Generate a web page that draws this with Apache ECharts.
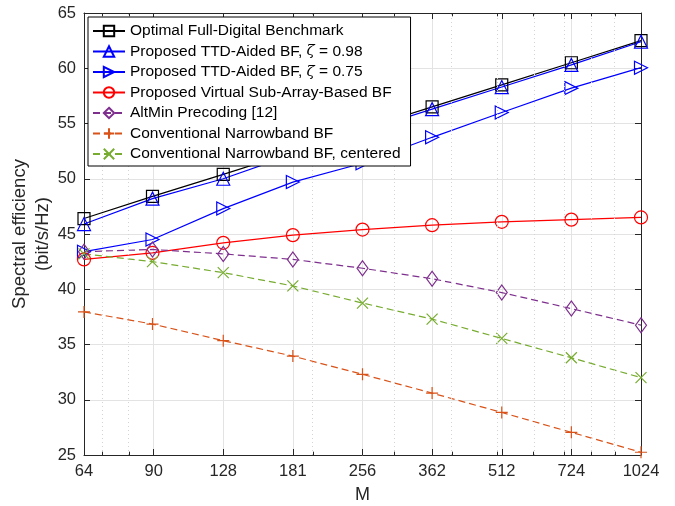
<!DOCTYPE html>
<html>
<head>
<meta charset="utf-8">
<script src="https://cdn.jsdelivr.net/npm/echarts@6/dist/echarts.min.js"></script>
<style>
  html, body { margin: 0; padding: 0; background: #fff; }
  #chart { width: 675px; height: 506px; }
</style>
</head>
<body>
<div id="chart"></div>
<script>
// antenna counts on the x axis (log-spaced)
const M = [64, 90, 128, 181, 256, 362, 512, 724, 1024]
const xTickLabels = ['64', '90', '128', '181', '256', '362', '512', '724', '1024']
const minorM = [70, 80, 200, 300, 400, 500, 600, 700, 800, 900]

const optimal = [46.4, 48.4, 50.4, 52.4, 54.5, 56.5, 58.5, 60.5, 62.5]
const ttd098 = [45.9, 48.2, 50.0, 52.2, 54.3, 56.3, 58.3, 60.3, 62.4]
const ttd075 = [43.4, 44.5, 47.3, 49.7, 51.4, 53.75, 56.0, 58.2, 60.05]
const virtualSub = [42.7, 43.3, 44.2, 44.9, 45.4, 45.8, 46.1, 46.3, 46.5]
const altMin = [43.4, 43.6, 43.2, 42.7, 41.9, 40.95, 39.7, 38.25, 36.75]
const narrowband = [37.95, 36.85, 35.35, 33.95, 32.3, 30.6, 28.85, 27.05, 25.25]
const narrowbandCentered = [43.2, 42.5, 41.5, 40.3, 38.75, 37.3, 35.55, 33.8, 32.0]

const font = 'Liberation Sans, Arial, Helvetica, sans-serif'
const axisColor = '#262626'
const yMin = 25
const yMax = 65

const toXY = vals => M.map((m, i) => [Math.log2(m), vals[i]])

function mkSeries (name, vals, color, symbol, size, dashed) {
  return {
    name: name,
    type: 'line',
    data: toXY(vals),
    symbol: symbol,
    symbolSize: size,
    showSymbol: true,
    z: 3,
    lineStyle: { color: color, width: 1.2, type: dashed ? [7, 4] : 'solid' },
    itemStyle: { color: 'rgba(0,0,0,0)', borderColor: color, borderWidth: 1.2 },
    emphasis: { disabled: true }
  }
}

// short minor ticks on the bottom and top edges (log positions)
const minorTicks = []
minorM.forEach(m => {
  const x = Math.log2(m)
  minorTicks.push([{ coord: [x, yMin] }, { coord: [x, yMin + 0.3] }])
  minorTicks.push([{ coord: [x, yMax] }, { coord: [x, yMax - 0.3] }])
})

const option = {
  animation: false,
  backgroundColor: '#fff',
  textStyle: { fontFamily: font },
  grid: { left: 84, right: 34, top: 13, bottom: 51, containLabel: false, outerBoundsMode: 'none' },
  legend: {
    orient: 'vertical',
    left: 88,
    top: 17,
    itemWidth: 32,
    itemHeight: 13,
    itemGap: 4.5,
    padding: [6, 10, 4, 4],
    backgroundColor: '#fff',
    borderColor: '#000',
    borderWidth: 1,
    borderRadius: 0,
    z: 10,
    textStyle: {
      fontFamily: font,
      fontSize: 15.5,
      lineHeight: 16,
      color: '#000',
      rich: { i: { fontFamily: 'DejaVu Serif, serif', fontStyle: 'italic', fontSize: 15, lineHeight: 16, color: '#000' } }
    },
    formatter: function (name) {
      return name.replace('ζ', '{i|ζ}')
    }
  },
  xAxis: [
    {
      type: 'value',
      min: 6,
      max: 10,
      interval: 0.5,
      name: 'M',
      nameLocation: 'middle',
      nameGap: 31,
      nameMoveOverlap: false,
      nameTextStyle: { fontSize: 18, color: axisColor, fontFamily: font },
      axisLine: { show: true, onZero: false, lineStyle: { color: axisColor, width: 1 } },
      axisTick: { show: true, inside: true, length: 6, lineStyle: { color: axisColor } },
      axisLabel: {
        fontSize: 16.5,
        color: axisColor,
        margin: 8,
        formatter: v => xTickLabels[Math.round((v - 6) * 2)]
      },
      splitLine: { show: true, lineStyle: { color: '#e3e3e3', width: 1 } }
    },
    {
      type: 'value',
      position: 'top',
      min: 6,
      max: 10,
      interval: 0.5,
      axisLine: { show: true, onZero: false, lineStyle: { color: axisColor, width: 1 } },
      axisTick: { show: true, inside: true, length: 6, lineStyle: { color: axisColor } },
      axisLabel: { show: false },
      splitLine: { show: false }
    }
  ],
  yAxis: [
    {
      type: 'value',
      min: yMin,
      max: yMax,
      interval: 5,
      name: 'Spectral efficiency\n(bit/s/Hz)',
      nameLocation: 'middle',
      nameGap: 30,
      nameMoveOverlap: false,
      nameTextStyle: { fontSize: 18.5, color: axisColor, fontFamily: font, lineHeight: 23 },
      axisLine: { show: true, onZero: false, lineStyle: { color: axisColor, width: 1 } },
      axisTick: { show: true, inside: true, length: 6, lineStyle: { color: axisColor } },
      axisLabel: { fontSize: 16.5, color: axisColor, margin: 8 },
      splitLine: { show: true, lineStyle: { color: '#e3e3e3', width: 1 } }
    },
    {
      type: 'value',
      position: 'right',
      min: yMin,
      max: yMax,
      interval: 5,
      axisLine: { show: true, onZero: false, lineStyle: { color: axisColor, width: 1 } },
      axisTick: { show: true, inside: true, length: 6, lineStyle: { color: axisColor } },
      axisLabel: { show: false },
      splitLine: { show: false }
    }
  ],
  series: [
    {
      // minor log grid lines
      type: 'line',
      data: [],
      z: 1,
      silent: true,
      markLine: {
        silent: true,
        symbol: 'none',
        label: { show: false },
        animation: false,
        lineStyle: { color: '#d4d4d4', width: 1, type: [1, 3] },
        data: minorM.map(m => ({ xAxis: Math.log2(m) }))
      }
    },
    {
      type: 'line',
      data: [],
      z: 2,
      silent: true,
      markLine: {
        silent: true,
        symbol: 'none',
        label: { show: false },
        animation: false,
        lineStyle: { color: axisColor, width: 1, type: 'solid' },
        data: minorTicks
      }
    },
    mkSeries('Optimal Full-Digital Benchmark', optimal, '#000000', 'rect', 12, false),
    mkSeries('Proposed TTD-Aided BF, ζ = 0.98', ttd098, '#0000ff', 'triangle', 13, false),
    mkSeries('Proposed TTD-Aided BF, ζ = 0.75', ttd075, '#0000ff', 'path://M0,0 L10,5 L0,10 Z', 13, false),
    mkSeries('Proposed Virtual Sub-Array-Based BF', virtualSub, '#ff0000', 'circle', 13, false),
    mkSeries('AltMin Precoding [12]', altMin, '#7E2F8E', 'diamond', [11, 15], true),
    mkSeries('Conventional Narrowband BF', narrowband, '#D95319', 'path://M5,0 L5,10 M0,5 L10,5', 12, true),
    mkSeries('Conventional Narrowband BF, centered', narrowbandCentered, '#77AC30', 'path://M0,0 L10,10 M10,0 L0,10', 11, true)
  ]
}

const chart = echarts.init(document.getElementById('chart'))
chart.setOption(option)
window.addEventListener('resize', () => chart.resize())
</script>
</body>
</html>
